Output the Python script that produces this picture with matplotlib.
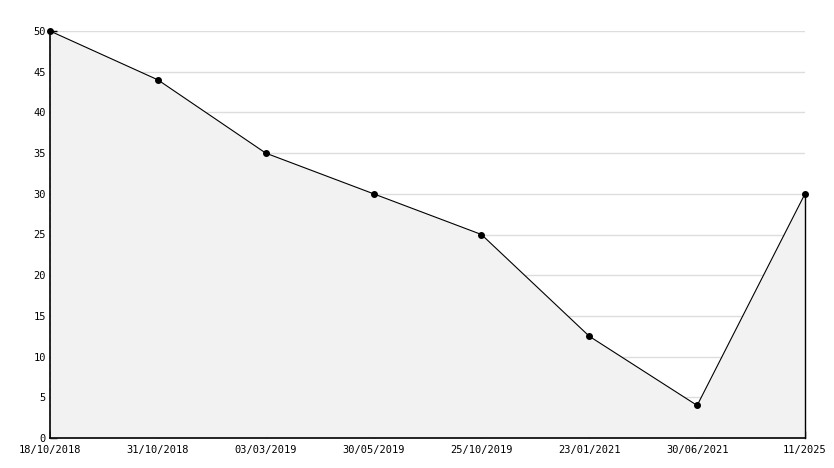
import matplotlib
matplotlib.use("Agg")
import matplotlib.pyplot as plt
from matplotlib.ticker import MultipleLocator

labels = ["18/10/2018", "31/10/2018", "03/03/2019", "30/05/2019",
          "25/10/2019", "23/01/2021", "30/06/2021", "11/2025"]
values = [50, 44, 35, 30, 25, 12.5, 4, 30]

plt.rcParams['font.family'] = ['DejaVu Sans Mono']
fig = plt.figure(figsize=(8.34, 4.68), dpi=100)
ax = fig.add_axes([50/834, 1-438/468, 755/834, 407/468])
x = list(range(len(values)))

ax.set_xlim(0, len(values)-1)
ax.set_ylim(0, 50)
ax.yaxis.set_major_locator(MultipleLocator(5))
ax.yaxis.set_minor_locator(MultipleLocator(1))
ax.set_xticks(x)
ax.set_xticklabels(labels)
ax.grid(axis='y', color='#dddddd', linewidth=1, zorder=0)
ax.set_axisbelow(True)
ax.fill_between(x, values, 0, color='#f2f2f2', zorder=1, linewidth=0)
ax.plot(x, values, color='black', linewidth=0.8, marker='o', markersize=4,
        zorder=3, clip_on=False)
ax.plot([x[-1], x[-1]], [0, values[-1]], color='black', linewidth=1,
        zorder=3, clip_on=False)

for s in ['top', 'right']:
    ax.spines[s].set_visible(False)
for s in ['left', 'bottom']:
    ax.spines[s].set_linewidth(1.2)
ax.tick_params(axis='both', which='major', direction='in', length=5, width=1, labelsize=7.5, pad=3)
ax.tick_params(axis='y', which='minor', direction='in', length=3, width=1)
ax.tick_params(axis='x', pad=5)
fig.savefig("out.png", dpi=100)
